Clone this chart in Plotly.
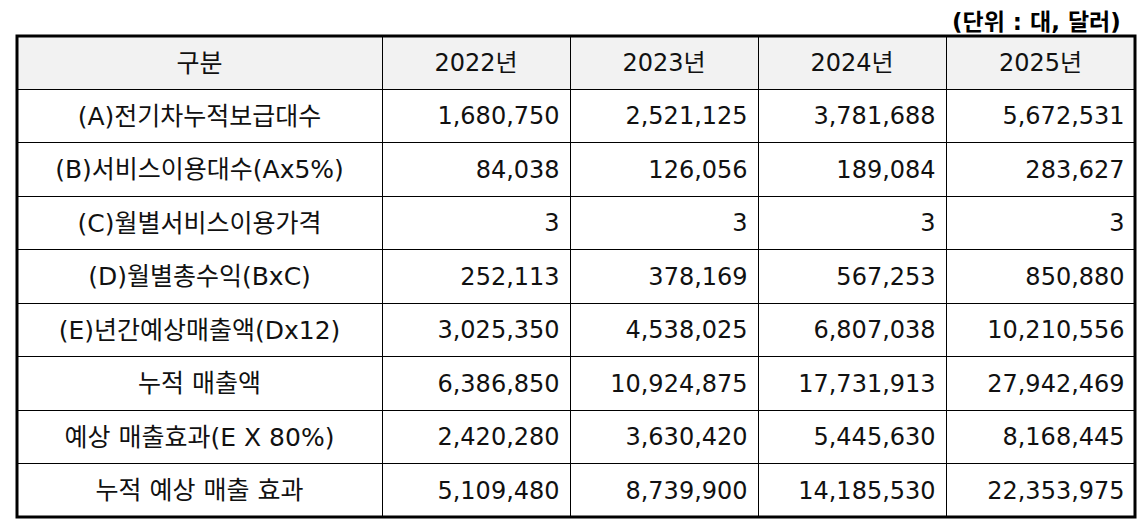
import plotly.graph_objects as go

# page has an 8px body margin; figure fills the rest of the 1148x529 window
OFF = 8
W, H = 1148 - OFF, 529 - OFF

header_labels = ["구분", "2022년", "2023년", "2024년", "2025년"]
row_labels = [
    "(A)전기차누적보급대수",
    "(B)서비스이용대수(Ax5%)",
    "(C)월별서비스이용가격",
    "(D)월별총수익(BxC)",
    "(E)년간예상매출액(Dx12)",
    "누적 매출액",
    "예상 매출효과(E X 80%)",
    "누적 예상 매출 효과",
]
y2022 = [1680750, 84038, 3, 252113, 3025350, 6386850, 2420280, 5109480]
y2023 = [2521125, 126056, 3, 378169, 4538025, 10924875, 3630420, 8739900]
y2024 = [3781688, 189084, 3, 567253, 6807038, 17731913, 5445630, 14185530]
y2025 = [5672531, 283627, 3, 850880, 10210556, 27942469, 8168445, 22353975]
unit_note = "(단위 : 대, 달러)"

FONT = "DejaVu Sans, Noto Sans CJK KR, sans-serif"


def px(x):
    return (x - OFF) / W


def py(y):
    return (H - (y - OFF)) / H


left, right, top, bottom = 17, 1135, 36, 517
header_h = 53
row_h = 53.5
colw = [365, 188, 188, 188, 189]
TEXT_SHIFT = 9


def fmt(vals):
    return [f"{v:,}\u200a" for v in vals]


# grid table (borders + fills)
grid = go.Table(
    domain=dict(x=[px(left), px(right)], y=[py(bottom + 2), py(top)]),
    columnwidth=colw,
    header=dict(values=[""] * 5, fill_color="#f2f2f2",
                line=dict(color="black", width=1), height=header_h),
    cells=dict(values=[[""] * len(row_labels)] * 5, fill_color="white",
               line=dict(color="black", width=1), height=row_h),
)

# text table (same rows, vertically centred text)
text = go.Table(
    domain=dict(x=[px(left), px(right)], y=[py(bottom + TEXT_SHIFT + 2), py(top + TEXT_SHIFT)]),
    columnwidth=colw,
    header=dict(values=header_labels, fill_color="rgba(0,0,0,0)",
                line=dict(color="rgba(0,0,0,0)", width=0), align="center",
                font=dict(family=FONT, size=[25, 24, 24, 24, 24], color="#111111"),
                height=header_h),
    cells=dict(values=[row_labels, fmt(y2022), fmt(y2023), fmt(y2024), fmt(y2025)],
               fill_color="rgba(0,0,0,0)",
               line=dict(color="rgba(0,0,0,0)", width=0),
               align=["center", "right", "right", "right", "right"],
               font=dict(family=FONT, size=[25, 24, 24, 24, 24], color="#111111"),
               height=row_h),
)

fig = go.Figure([grid, text])

fig.add_shape(type="rect", xref="paper", yref="paper",
              x0=px(left), x1=px(right), y0=py(bottom), y1=py(top),
              line=dict(color="black", width=3))

fig.add_annotation(text="<b>" + unit_note + "</b>", xref="paper", yref="paper",
                   x=px(1123), y=py(22), xanchor="right", yanchor="middle",
                   showarrow=False, font=dict(family=FONT, size=23, color="black"))

fig.update_layout(width=W, height=H, margin=dict(l=0, r=0, t=0, b=0),
                  paper_bgcolor="white", plot_bgcolor="white")
fig.write_html("out.html")
